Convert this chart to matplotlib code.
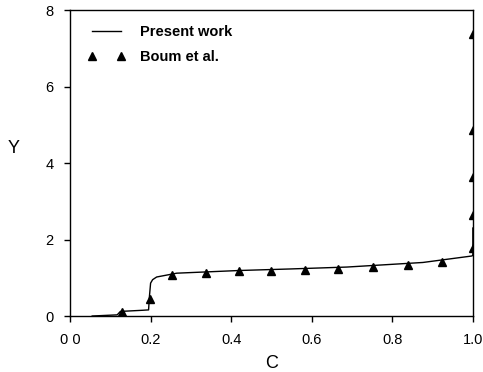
import matplotlib
matplotlib.use("Agg")
import matplotlib.pyplot as plt

plt.rcParams['font.family'] = ['Liberation Sans', 'DejaVu Sans']

# present work (solid line)
line_c = [0.055, 0.117, 0.125, 0.18, 0.195, 0.197, 0.20, 0.205, 0.215, 0.24, 0.265,
          0.42, 0.546, 0.687, 0.876, 0.998, 1.0, 1.0]
line_y = [0.0, 0.03, 0.12, 0.15, 0.16, 0.5, 0.86, 0.95, 1.02, 1.07, 1.12,
          1.19, 1.23, 1.28, 1.40, 1.57, 1.6, 2.3]

# Boum et al. (triangles)
boum_c = [0.129, 0.199, 0.253, 0.337, 0.42, 0.50, 0.583, 0.665, 0.752, 0.839, 0.923,
          1.0, 1.0, 1.0, 1.0, 1.0]
boum_y = [0.10, 0.45, 1.07, 1.13, 1.17, 1.17, 1.20, 1.24, 1.28, 1.33, 1.41,
          1.78, 2.64, 3.63, 4.86, 7.38]

xticks = [0.0, 0.2, 0.4, 0.6, 0.8, 1.0]
xtick_labels = ["0 0", "0.2", "0.4", "0.6", "0.8", "1.0"]
yticks = [0, 2, 4, 6, 8]

fig = plt.figure(figsize=(4.83, 3.72), dpi=100)
ax = fig.add_axes([0.145, 0.1505, 0.834, 0.8225])

ax.plot(line_c, line_y, color='black', linewidth=1, label='Present work')
ax.plot(boum_c, boum_y, linestyle='none', marker='^', markersize=5.5,
        color='black', label='Boum et al.')

ax.set_xlim(0, 1.0)
ax.set_ylim(0, 8)
ax.set_xticks(xticks)
ax.set_xticklabels(xtick_labels)
ax.set_yticks(yticks)
ax.tick_params(axis='both', direction='out', length=4, width=1, labelsize=10.5,
               pad=8, top=False, right=False)
for s in ax.spines.values():
    s.set_linewidth(1)

ax.set_xlabel("C", fontsize=13, labelpad=6)
ax.set_ylabel("Y", fontsize=13, rotation=0)
ax.yaxis.set_label_coords(-0.14, 0.52)

ax.legend(loc='upper left', frameon=False, numpoints=2, handlelength=2.6,
          handletextpad=1.0, labelspacing=0.75,
          prop={'weight': 'bold', 'size': 10.5}, borderaxespad=0.5,
          bbox_to_anchor=(0.01, 0.995))

fig.savefig("out.png", dpi=100)
